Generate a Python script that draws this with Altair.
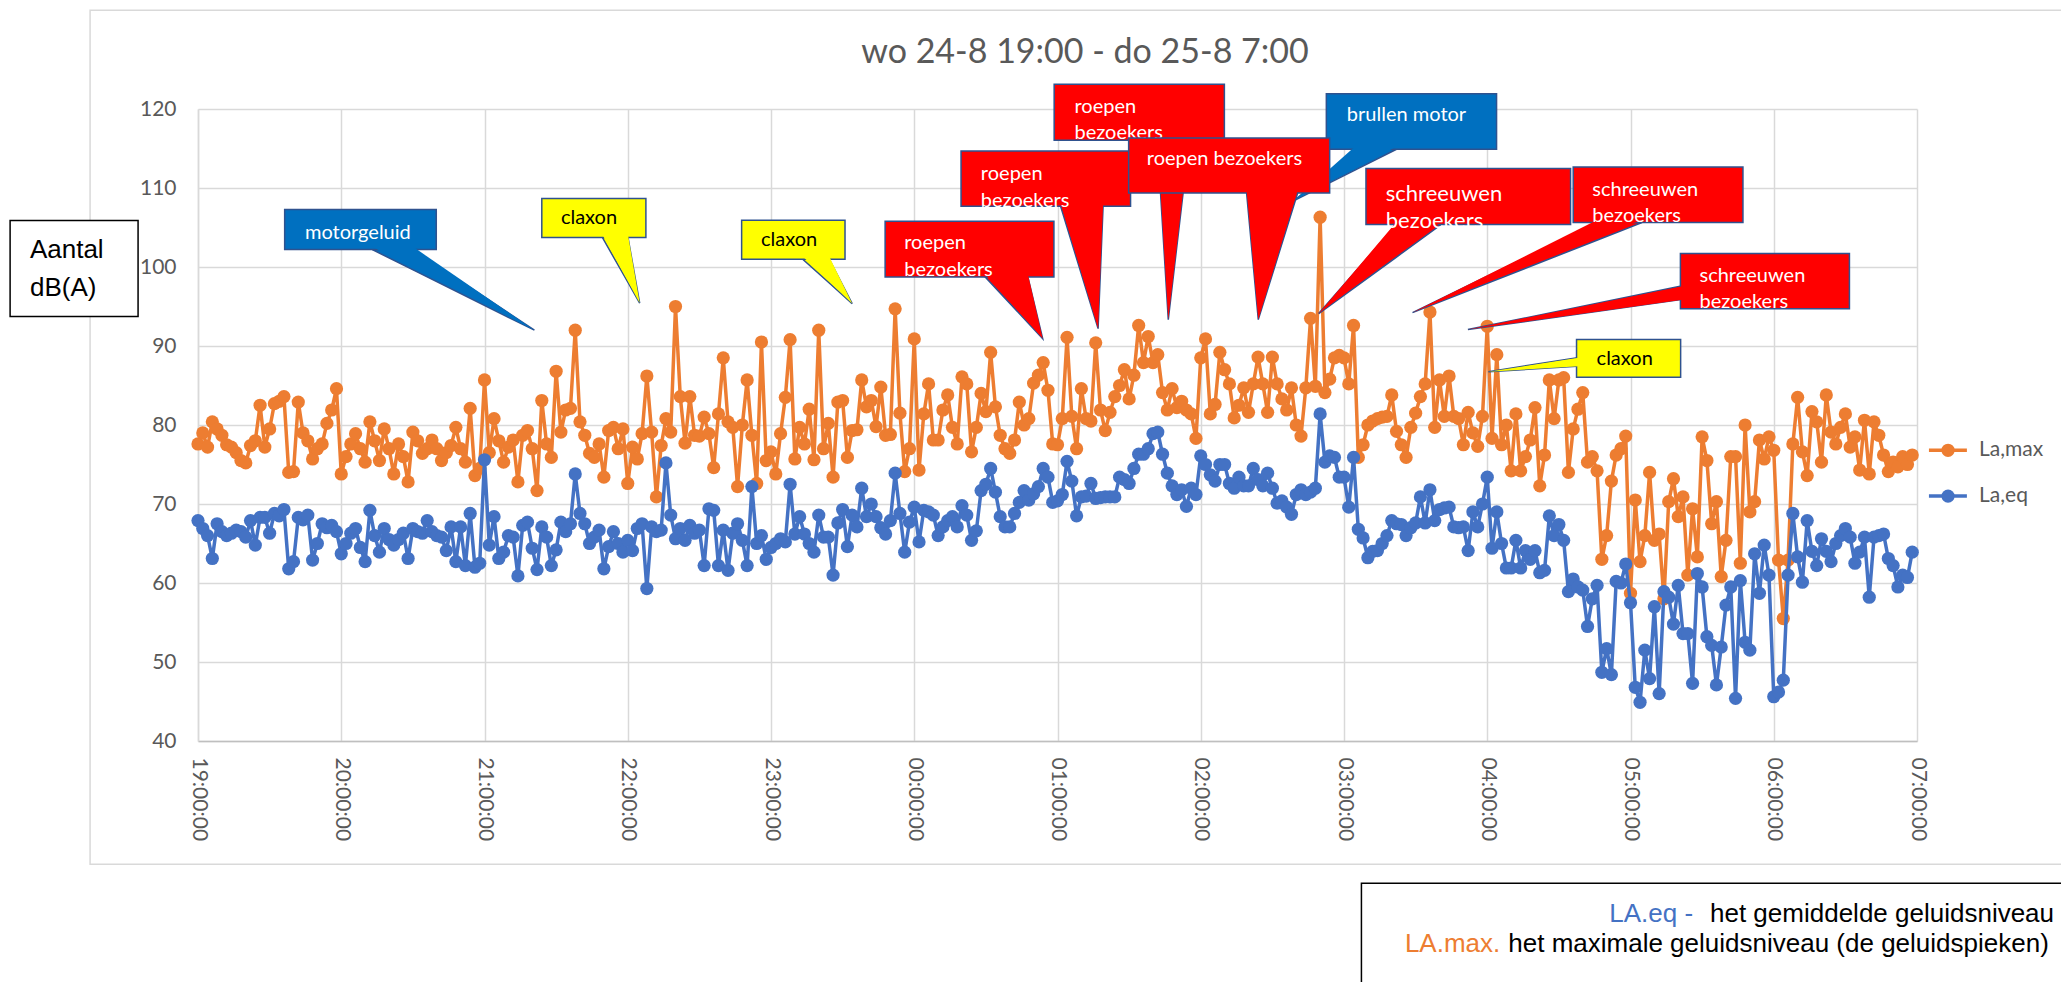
import json
import altair as alt
import pandas as pd

# ---------------- data ----------------
hour_labels = ["19:00:00", "20:00:00", "21:00:00", "22:00:00", "23:00:00", "00:00:00",
               "01:00:00", "02:00:00", "03:00:00", "04:00:00", "05:00:00", "06:00:00", "07:00:00"]
STEP_MIN = 2  # one measurement every 2 minutes, starting 19:00

la_max = [
    77.6, 79, 77.2, 80.4, 79.5, 78.7, 77.5, 77.2, 76.5, 75.5, 75.2, 77.4, 78, 82.5, 77.2, 79.5, 82.7, 83, 83.6, 74, 74.1, 82.9, 79, 78, 75.7, 77, 77.6, 80.2, 81.9, 84.6,
    73.8, 76, 77.6, 78.9, 77, 75.3, 80.4, 78, 75.5, 79.5, 77, 73.8, 77.6, 76, 72.8, 79.1, 78, 76.4, 77, 78.1, 77, 75.5, 76.5, 77.4, 79.7, 77, 75.3, 82.1, 73.6, 74.5,
    85.7, 76.5, 80.8, 78, 75.3, 77.2, 78.1, 72.8, 78.7, 79.3, 77, 71.7, 83.1, 77.6, 75.9, 86.8, 79.1, 81.9, 82.1, 92, 80.4, 78.7, 76.4, 75.9, 77.6, 73.4, 79.3, 79.7, 77, 79.5,
    72.6, 77.2, 75.7, 78.9, 86.2, 79.1, 70.9, 77.4, 80.8, 79.1, 95, 83.6, 77.7, 83.6, 78.7, 78.6, 81, 78.9, 74.6, 81.4, 88.5, 80.4, 79.7, 72.2, 80, 85.7, 78.7, 72.6, 90.5, 75.5,
    76.6, 73.8, 78.9, 83.5, 90.8, 75.7, 79.7, 77.6, 82, 75.6, 92, 77, 80.2, 73.4, 82.9, 83.1, 75.9, 79.3, 79.4, 85.7, 82.3, 83.1, 79.8, 84.8, 78.7, 78.8, 94.7, 81.5, 74.1, 77,
    90.9, 74.3, 81.4, 85.2, 78.1, 78.1, 81.9, 83.8, 79.7, 77.6, 86.1, 85.2, 76.6, 79.7, 84, 81.7, 89.2, 82.3, 78.7, 77, 76.4, 78.1, 82.9, 80, 80.8, 85.3, 86.3, 87.9, 84.4, 77.6,
    77.5, 80.8, 91.1, 81.1, 77, 84.6, 80.8, 80.5, 90.4, 81.9, 79.3, 81.6, 83.6, 85, 87, 83.3, 86.3, 92.6, 87.9, 91.2, 87.9, 88.9, 84.1, 81.9, 84.6, 82.2, 83, 81.9, 81.4, 78.3,
    88.5, 90.9, 81.4, 82.6, 89.2, 87, 85.2, 80.9, 82.5, 84.7, 81.6, 85.2, 88.6, 85.2, 81.6, 88.6, 85.2, 83.3, 81.9, 84.7, 80, 78.6, 84.7, 93.5, 84.9, 106.3, 84.1, 85.8, 88.5, 88.8,
    88.5, 85.2, 92.6, 75.9, 77.5, 80, 80.5, 80.8, 81, 81.1, 83.8, 79.2, 77.5, 75.9, 79.7, 81.5, 83.6, 85.2, 94.3, 79.7, 85.7, 81.1, 86.2, 81.1, 80.8, 77.5, 81.6, 79, 77.3, 81.1,
    92.5, 78.3, 88.9, 77.5, 80, 74.2, 81.4, 74.2, 76, 78.1, 82.2, 72.3, 76.2, 85.7, 80.8, 85.7, 86, 74, 79.5, 82, 84.1, 75.3, 76, 74.2, 63, 66, 72.9, 76.2, 77, 78.6,
    58.7, 70.5, 62.7, 66, 74, 65.4, 66.2, 58, 70.3, 73.2, 68.4, 70.9, 61, 69.4, 63.3, 78.5, 75.5, 67.5, 70.3, 60.8, 65.4, 76, 76, 62.5, 80, 69, 70.3, 78.1, 75.7, 78.5,
    76.8, 62.9, 55.5, 62.9, 77.6, 83.5, 76.6, 73.6, 81.7, 80.4, 75.3, 83.8, 79.1, 77.6, 79.7, 81.4, 77.2, 78.5, 74.3, 80.6, 73.8, 80.4, 78.7, 76.2, 74.1, 75.3, 74.7, 76, 75, 76.2,
]

la_eq = [
    67.9, 66.9, 66, 63.1, 67.5, 66.5, 66, 66.3, 66.7, 66.5, 65.8, 67.9, 64.8, 68.3, 68.3, 66.3, 68.8, 68.5, 69.3, 61.8, 62.7, 68.3, 68, 68.6, 62.9, 65, 67.5, 67, 67.3, 66.5,
    63.7, 65, 66.3, 66.9, 64.5, 62.7, 69.2, 66, 63.9, 66.9, 65.5, 64.8, 65.5, 66.3, 63.1, 66.9, 66.5, 66.3, 67.9, 66.5, 66, 65.8, 64.1, 67.1, 62.7, 67.1, 62.2, 68.8, 62, 62.5,
    75.6, 64.8, 68.4, 63.1, 63.9, 66, 65.8, 60.9, 67.3, 67.7, 64.4, 61.7, 67.1, 65.8, 62.2, 64.2, 67.7, 66.5, 67.5, 73.8, 68.8, 67.5, 65, 65.8, 66.7, 61.8, 64.6, 66.5, 65, 63.9,
    65.4, 64.1, 66.9, 67.5, 59.3, 67.1, 66.5, 66.7, 75.2, 68.6, 65.6, 66.9, 65.4, 67.3, 66.3, 66.7, 62.2, 69.4, 69.2, 62.2, 66.7, 61.6, 66.3, 67.5, 65.4, 62.2, 72.2, 65, 66, 63,
    64.5, 65, 65.6, 65.2, 72.5, 66.2, 68.4, 66.2, 65, 63.9, 68.6, 65.8, 65.8, 61, 67.6, 69.3, 64.6, 68.6, 67.1, 72, 68.4, 70, 68.4, 67, 66.2, 67.9, 73.9, 68.8, 63.9, 67.7,
    69.6, 65.2, 69.2, 69, 68.6, 66, 67.1, 67.9, 68.4, 67.1, 69.8, 68.6, 65.4, 66.6, 71.7, 72.5, 74.5, 71.5, 68.4, 67.1, 67.1, 68.8, 70.2, 71.7, 70.5, 71.3, 72.2, 74.5, 73.4, 70.2,
    70.4, 71.2, 75.4, 72.9, 68.5, 70.9, 71, 72.6, 70.7, 70.8, 70.9, 70.9, 70.9, 73.4, 73.1, 72.6, 74.5, 76.3, 76.3, 77, 78.9, 79.1, 76.3, 73.9, 72.3, 71.2, 71.8, 69.7, 72, 71.2,
    76.1, 75, 73.7, 72.9, 75, 75, 72.6, 72, 73.4, 72.3, 72.3, 74.5, 73.1, 72.3, 73.9, 72, 70.1, 70.4, 69.6, 68.7, 71.2, 71.8, 71.2, 71.5, 72, 81.4, 75.3, 76.1, 75.9, 73.4,
    73.4, 69.6, 75.9, 66.8, 65.7, 63.2, 64, 64.1, 65, 66, 67.9, 67.5, 67.4, 66, 67, 67.6, 70.9, 67.6, 71.8, 67.9, 69.3, 69.5, 69.6, 67.1, 67, 67.1, 64.1, 69, 67.1, 70,
    73.4, 64.4, 69, 65, 61.9, 61.9, 65.4, 61.9, 64.1, 63, 64.1, 61.3, 61.6, 68.5, 66, 67.4, 65.4, 58.9, 60.5, 59.5, 59.1, 54.5, 58, 59.7, 48.7, 51.7, 48.4, 60.2, 60, 62.4,
    57.5, 46.8, 44.9, 51.5, 47.9, 57, 46, 58.9, 58.2, 54.8, 59.7, 53.6, 53.6, 47.3, 61.2, 59.5, 53.2, 52.1, 47.1, 51.9, 57.2, 59.5, 45.4, 60.3, 52.5, 51.5, 63.7, 58.7, 64.8, 61,
    45.6, 46.2, 47.7, 61, 68.8, 63.3, 60.1, 67.9, 64, 62.2, 65.6, 64, 62.7, 65, 66, 66.9, 65.8, 62.5, 63.9, 65.8, 58.2, 65.8, 66, 66.2, 63.1, 62.2, 59.5, 61, 60.7, 63.9,
]

series_names = ["La,max", "La,eq"]
series_colors = ["#ED7D31", "#4472C4"]
title_text = "wo 24-8 19:00 - do 25-8 7:00"
y_title_lines = ["Aantal", "dB(A)"]
note_eq = ["LA.eq -", "het gemiddelde geluidsniveau"]
note_max = ["LA.max.", "het maximale geluidsniveau (de geluidspieken)"]

# callouts (annotation boxes), in data units: minutes since 19:00 and dB(A)
RED, BLUE, YELLOW = "#FF0000", "#0070C0", "#FFFF00"
callouts = [
    dict(lines=["motorgeluid"], fill=BLUE, tc="white", fs=20, box=(36.3, 99.8, 102.2, 107.27),
         tx=44.8, ty=[104.3], ptr=[(73.0, 102.2), (90.1, 102.2), (140.9, 92.0)], side="bottom"),
    dict(lines=["claxon"], fill=YELLOW, tc="black", fs=20, box=(144.0, 187.6, 103.72, 108.66),
         tx=152.0, ty=[106.2], ptr=[(169.4, 103.72), (180.1, 103.72), (185.0, 95.44)], side="bottom"),
    dict(lines=["claxon"], fill=YELLOW, tc="black", fs=20, box=(227.7, 271.0, 100.97, 105.91),
         tx=235.8, ty=[103.4], ptr=[(253.3, 100.97), (264.4, 100.97), (274.0, 95.37)], side="bottom"),
    dict(lines=["roepen", "bezoekers"], fill=RED, tc="white", fs=20, box=(287.8, 358.5, 98.73, 105.78),
         tx=295.8, ty=[103.0, 99.6], ptr=[(329.7, 98.73), (347.6, 98.73), (353.8, 90.94)], side="bottom"),
    dict(lines=["roepen", "bezoekers"], fill=RED, tc="white", fs=20, box=(358.6, 429.9, 116.04, 123.13),
         tx=367.1, ty=[120.3, 116.9], ptr=[(401.8, 116.04), (415.2, 116.04), (406.4, 93.34)], side="bottom"),
    dict(lines=["roepen", "bezoekers"], fill=RED, tc="white", fs=20, box=(319.6, 390.6, 107.68, 114.68),
         tx=327.9, ty=[111.8, 108.4], ptr=[(361.3, 107.68), (379.1, 107.68), (377.0, 92.2)], side="bottom"),
    dict(lines=["brullen motor"], fill=BLUE, tc="white", fs=20, box=(472.6, 543.9, 114.9, 121.94),
         tx=481.2, ty=[119.2], ptr=[(484.6, 114.9), (502.0, 114.9), (459.3, 108.44)], side="bottom"),
    dict(lines=["roepen bezoekers"], fill=RED, tc="white", fs=20, box=(389.8, 474.0, 109.37, 116.33),
         tx=397.4, ty=[113.7], ptr=[(439.2, 109.37), (460.6, 109.37), (444.1, 93.34)], side="bottom"),
    dict(lines=["schreeuwen", "bezoekers"], fill=RED, tc="white", fs=22, box=(489.2, 574.9, 105.37, 112.46),
         tx=497.5, ty=[109.3, 105.8], ptr=[(502.0, 105.37), (520.7, 105.37), (469.4, 94.1)], side="bottom"),
    dict(lines=["schreeuwen", "bezoekers"], fill=RED, tc="white", fs=20, box=(576.0, 647.1, 105.62, 112.66),
         tx=584.0, ty=[109.8, 106.5], ptr=[(586.2, 105.62), (604.8, 105.62), (508.7, 94.23)], side="bottom"),
    dict(lines=["schreeuwen", "bezoekers"], fill=RED, tc="white", fs=20, box=(620.9, 691.7, 94.73, 101.7),
         tx=628.9, ty=[98.9, 95.6], ptr=[(620.9, 97.56), (620.9, 95.87), (531.9, 92.08)], side="left"),
    dict(lines=["claxon"], fill=YELLOW, tc="black", fs=20, box=(577.4, 621.0, 86.04, 90.81),
         tx=585.8, ty=[88.3], ptr=[(577.4, 88.5), (577.4, 87.43), (540.5, 86.75)], side="left"),
]

# ---------------- scales & axes ----------------
FONT = "Lato"
GREY_TXT = "#595959"
xs = alt.Scale(domain=[0, 720], nice=False, zero=False)
ys = alt.Scale(domain=[40, 120], nice=False, zero=False)

x_axis = alt.Axis(
    values=[h * 60 for h in range(len(hour_labels))],
    labelExpr=json.dumps(hour_labels) + "[round(datum.value / 60)]",
    labelAngle=90, labelAlign="left", labelBaseline="middle", labelPadding=16,
    ticks=False, grid=True, gridColor="#d9d9d9", gridWidth=1.5,
    domainColor="#bfbfbf", domainWidth=1.5,
    labelFont=FONT, labelFontSize=21, labelColor=GREY_TXT, title=None,
    labelOverlap=False, labelFlush=False, labelBound=False,
)
y_axis = alt.Axis(
    values=list(range(40, 121, 10)), labelPadding=22, ticks=False,
    grid=True, gridColor="#d9d9d9", gridWidth=1.5,
    domainColor="#d9d9d9", domainWidth=1.5,
    labelFont=FONT, labelFontSize=21, labelColor=GREY_TXT, title=None,
    labelOverlap=False, labelFlush=False,
)


def X(f):
    return alt.X(f, type="quantitative", scale=xs, axis=x_axis)


def Y(f):
    return alt.Y(f, type="quantitative", scale=ys, axis=y_axis)


color_enc = alt.Color("series:N", scale=alt.Scale(domain=series_names, range=series_colors), legend=None)

layers = []

# outer chart frame
frame = pd.DataFrame({"x": [-45.2], "x2": [790], "y": [24.4], "y2": [132.5]})
layers.append(alt.Chart(frame).mark_rect(fillOpacity=0, stroke="#d9d9d9", strokeWidth=1.5).encode(
    x=X("x"), x2="x2", y=Y("y"), y2="y2"))

# data series
for name, values in zip(series_names, [la_max, la_eq]):
    d = pd.DataFrame({"minute": [i * STEP_MIN for i in range(len(values))],
                      "value": values, "series": name})
    layers.append(alt.Chart(d).mark_line(
        strokeWidth=3.5, point=alt.OverlayMarkDef(filled=True, size=175, opacity=1)
    ).encode(
        x=X("minute"),
        y=Y("value"),
        color=color_enc,
    ))

# title
layers.append(alt.Chart(pd.DataFrame({"x": [371.5], "y": [127.05], "t": [title_text]})).mark_text(
    font=FONT, fontSize=34, color=GREY_TXT, align="center", baseline="middle").encode(
    x=X("x"), y=Y("y"), text="t:N"))

# legend (right side)
leg_y = {"La,max": 76.8, "La,eq": 71.0}
leg_line = pd.DataFrame([{"series": s, "x": xx, "y": leg_y[s]} for s in series_names for xx in (725.0, 740.9)])
leg_pt = pd.DataFrame([{"series": s, "x": 733.0, "y": leg_y[s]} for s in series_names])
leg_txt = pd.DataFrame([{"series": s, "x": 746.0, "y": leg_y[s]} for s in series_names])
layers.append(alt.Chart(leg_line).mark_line(strokeWidth=3.5).encode(x=X("x"), y=Y("y"), color=color_enc, detail="series:N"))
layers.append(alt.Chart(leg_pt).mark_circle(size=175, opacity=1).encode(x=X("x"), y=Y("y"), color=color_enc))
layers.append(alt.Chart(leg_txt).mark_text(font=FONT, fontSize=21, color=GREY_TXT, align="left", baseline="middle").encode(
    x=X("x"), y=Y("y"), text="series:N"))

# y-title box
layers.append(alt.Chart(pd.DataFrame({"x": [-78.7], "x2": [-25.1], "y": [93.75], "y2": [105.9]})).mark_rect(
    fill="white", stroke="black", strokeWidth=1.5).encode(x=X("x"), x2="x2", y=Y("y"), y2="y2"))
layers.append(alt.Chart(pd.DataFrame({"x": [-70.4, -70.4], "y": [102.1, 97.3], "t": y_title_lines})).mark_text(
    font="Liberation Sans", fontSize=26, color="black", align="left", baseline="middle").encode(
    x=X("x"), y=Y("y"), text="t:N"))

# bottom explanation box
layers.append(alt.Chart(pd.DataFrame({"x": [487.3], "x2": [800], "y": [0], "y2": [22.0]})).mark_rect(
    fill="white", stroke="black", strokeWidth=1.5).encode(x=X("x"), x2="x2", y=Y("y"), y2="y2"))
note_df = pd.DataFrame([
    {"x": 591.1, "y": 18.15, "t": note_eq[0], "c": series_colors[1]},
    {"x": 633.3, "y": 18.15, "t": note_eq[1], "c": "black"},
    {"x": 505.5, "y": 14.35, "t": note_max[0], "c": series_colors[0]},
    {"x": 548.8, "y": 14.35, "t": note_max[1], "c": "black"},
])
layers.append(alt.Chart(note_df).mark_text(font="Liberation Sans", fontSize=26, align="left", baseline="middle").encode(
    x=X("x"), y=Y("y"), text="t:N", color=alt.Color("c:N", scale=None)))


# callouts
def tri_rows(pts, cid, fill):
    p = sorted(pts, key=lambda t: t[0])
    (x0, y0), (x1, y1), (x2, y2) = p
    if x1 == x2:
        rows = [(x0, y0, y0), (x1, y1, y2)]
    elif x0 == x1:
        rows = [(x0, y0, y1), (x2, y2, y2)]
    else:
        yon = y0 + (y2 - y0) * (x1 - x0) / (x2 - x0)
        rows = [(x0, y0, y0), (x1, y1, yon), (x2, y2, y2)]
    return pd.DataFrame([{"id": cid, "x": a, "y": b, "y2": c, "fill": fill} for a, b, c in rows])


BORDER = "#2F528F"
for k, c in enumerate(callouts):
    ptr = c["ptr"]
    if c["side"] == "bottom":
        inner = [(ptr[0][0], ptr[0][1] + 0.35), (ptr[1][0], ptr[1][1] + 0.35), ptr[2]]
    else:
        inner = [(ptr[0][0] + 0.9, ptr[0][1]), (ptr[1][0] + 0.9, ptr[1][1]), ptr[2]]
    outer_df = tri_rows(ptr, k, c["fill"])
    inner_df = tri_rows(inner, k, c["fill"])
    bx = c["box"]
    box_df = pd.DataFrame({"x": [bx[0]], "x2": [bx[1]], "y": [bx[2]], "y2": [bx[3]], "fill": [c["fill"]]})
    txt_df = pd.DataFrame({"x": [c["tx"]] * len(c["lines"]), "y": c["ty"], "t": c["lines"],
                           "tc": [c["tc"]] * len(c["lines"]), "fs": [c["fs"]] * len(c["lines"])})
    layers.append(alt.Chart(outer_df).mark_area(stroke=BORDER, strokeWidth=1.5, opacity=1).encode(
        x=X("x"), y=Y("y"), y2="y2", fill=alt.Fill("fill:N", scale=None), detail="id:N"))
    layers.append(alt.Chart(box_df).mark_rect(stroke=BORDER, strokeWidth=1.5).encode(
        x=X("x"), x2="x2", y=Y("y"), y2="y2", fill=alt.Fill("fill:N", scale=None)))
    layers.append(alt.Chart(inner_df).mark_area(opacity=1).encode(
        x=X("x"), y=Y("y"), y2="y2", fill=alt.Fill("fill:N", scale=None), detail="id:N"))
    layers.append(alt.Chart(txt_df).mark_text(font=FONT, align="left", baseline="middle").encode(
        x=X("x"), y=Y("y"), text="t:N", color=alt.Color("tc:N", scale=None), size=alt.Size("fs:Q", scale=None)))

chart = alt.layer(*layers).properties(
    width=1719, height=632,
    padding={"left": 190, "top": 101, "right": 144, "bottom": 241},
    autosize=alt.AutoSizeParams(type="none"),
    background="white",
).configure_view(stroke=None)

chart.save("out.html", embed_options={"renderer": "svg", "actions": False})
